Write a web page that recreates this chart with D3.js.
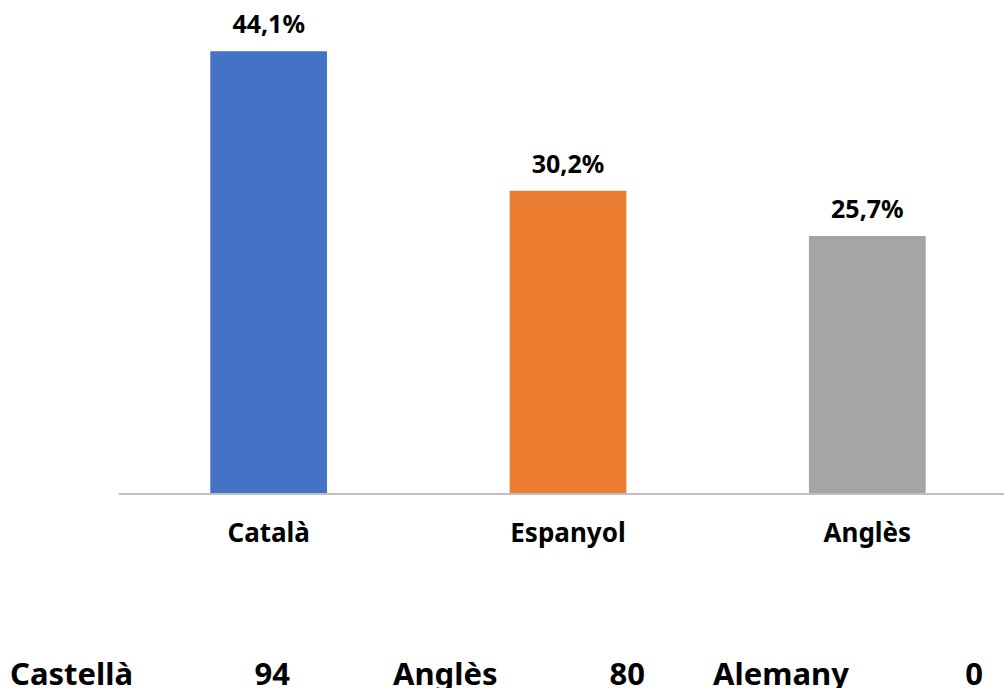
<!DOCTYPE html>
<html>
<head>
<meta charset="utf-8">
<script src="https://cdn.jsdelivr.net/npm/d3@7"></script>
<style>
body { margin: 0; background: #fff; overflow: hidden; }
text { font-family: "Noto Sans", "Open Sans", sans-serif; font-weight: bold; fill: #000; }
</style>
</head>
<body>
<script>
var categories = ["Català", "Espanyol", "Anglès"];
var values = [44.1, 30.2, 25.7];
var colors = ["#4472C4", "#ED7D31", "#A5A5A5"];

var tableLabels = ["Castellà", "Anglès", "Alemany"];
var tableValues = [94, 80, 0];

var svgWidth = 1004
var svgHeight = 688

var svg = d3.select("body").append("svg").attr("width", svgWidth).attr("height", svgHeight);

var xScale = d3.scaleBand().domain(categories).range([119, 1017]).paddingInner(0.61).paddingOuter(0.305);
var yScale = d3.scaleLinear().domain([0, 50]).range([494, -8]);

// bars
svg.selectAll("rect.bar")
    .data(values)
    .enter()
    .append("rect")
    .attr("class", "bar")
    .attr("x", (d, i) => xScale(categories[i]))
    .attr("y", d => yScale(d))
    .attr("width", xScale.bandwidth())
    .attr("height", d => yScale(0) - yScale(d))
    .attr("fill", (d, i) => colors[i]);

// value labels
svg.selectAll("text.val")
    .data(values)
    .enter()
    .append("text")
    .attr("class", "val")
    .attr("x", (d, i) => xScale(categories[i]) + xScale.bandwidth() / 2)
    .attr("y", d => yScale(d) - 18)
    .attr("text-anchor", "middle")
    .style("font-size", "25px")
    .text(d => d3.format(".1f")(d).replace(".", ",") + "%");

// x axis
var bottomAxis = d3.axisBottom(xScale).tickSize(0).tickPadding(30);
var axisG = svg.append("g").attr("transform", `translate(0,${yScale(0)})`).call(bottomAxis);
axisG.select(".domain").attr("stroke", "#BFBFBF").attr("stroke-width", 2).attr("d", "M119,0H1004");
axisG.selectAll(".tick text").style("font-size", "26px").attr("fill", "#000")
    .style("font-family", "'Noto Sans', 'Open Sans', sans-serif").style("font-weight", "bold");

// bottom table
var labelX = [10, 393, 713];
var valueX = [290, 645, 983];
var table = svg.append("g");
table.selectAll("text.tl")
    .data(tableLabels)
    .enter()
    .append("text")
    .attr("x", (d, i) => labelX[i])
    .attr("y", 685)
    .style("font-size", "31px")
    .text(d => d);
table.selectAll("text.tv")
    .data(tableValues)
    .enter()
    .append("text")
    .attr("x", (d, i) => valueX[i])
    .attr("y", 685)
    .attr("text-anchor", "end")
    .style("font-size", "31px")
    .text(d => d);
</script>
</body>
</html>
